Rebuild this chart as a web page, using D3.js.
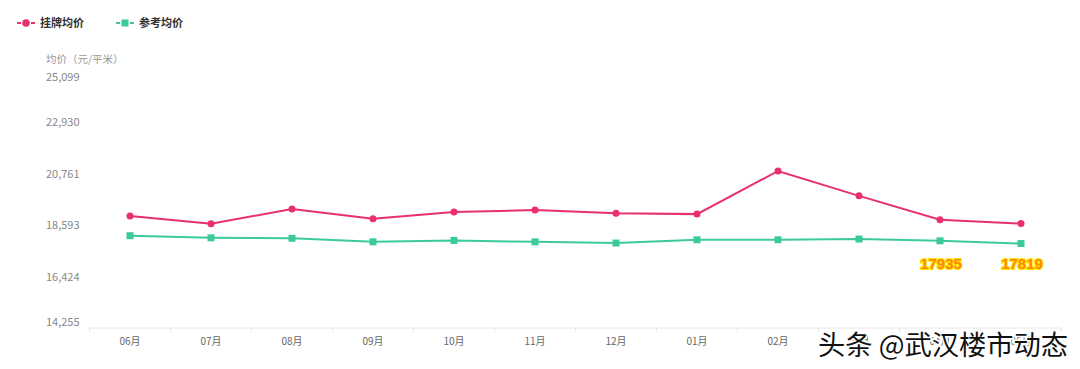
<!DOCTYPE html>
<html><head><meta charset="utf-8">
<script src="https://cdn.jsdelivr.net/npm/d3@7"></script>
<style>
body{margin:0;background:#fff;}
svg{display:block;font-family:"Noto Sans CJK SC","Noto Sans",sans-serif;}
</style></head>
<body><svg id="c" width="1080" height="369"></svg>
<script>
const months = ["06月","07月","08月","09月","10月","11月","12月","01月","02月","03月","04月","05月"];
const listed = [18980,18650,19280,18860,19150,19230,19100,19060,20880,19830,18820,18660];
const reference = [18150,18060,18040,17890,17950,17890,17840,17975,17980,18010,17935,17819];
const yTicks = [14255,16424,18593,20761,22930,25099];
const seriesNames = ["挂牌均价","参考均价"];
const highlightIdx = [10,11];

const svg = d3.select("#c");
const red = "#e8306a", green = "#3ccb98";
const x = d3.scaleBand().domain(months).range([89.5,1061.5]);
const y = d3.scaleLinear().domain([14255,25099]).range([328,71]);

// x axis
const gx = svg.append("g").attr("transform","translate(0,328)");
gx.append("line").attr("x1",89.5).attr("x2",1061.5).attr("stroke","#e6e6e6");
gx.selectAll("line.t").data(d3.range(months.length+1)).enter().append("line")
  .attr("x1",i=>89.5+i*x.bandwidth()).attr("x2",i=>89.5+i*x.bandwidth())
  .attr("y1",0).attr("y2",4).attr("stroke","#e6e6e6");
gx.selectAll("text").data(months).enter().append("text")
  .attr("x",d=>x(d)+x.bandwidth()/2).attr("y",17).attr("text-anchor","middle")
  .attr("font-size",10).attr("fill","#666").text(d=>d);

// y labels
svg.selectAll("text.yl").data(yTicks).enter().append("text").attr("class","yl")
  .attr("x",46).attr("y",(d,i)=>y(d)+4+(i===0?-6:(i===yTicks.length-1?6:0)))
  .attr("font-size",11).attr("fill","#888").text(d=>d3.format(",")(d));
svg.append("text").attr("x",46).attr("y",63).attr("font-size",10.5).attr("fill","#999").text("均价（元/平米）");

const cx = d=>x(d)+x.bandwidth()/2;
const line = d3.line().x((d,i)=>cx(months[i])).y(d=>y(d));
svg.append("path").datum(reference).attr("d",line).attr("fill","none").attr("stroke",green).attr("stroke-width",2);
svg.append("path").datum(listed).attr("d",line).attr("fill","none").attr("stroke",red).attr("stroke-width",2);
svg.selectAll("rect.g").data(reference).enter().append("rect")
  .attr("x",(d,i)=>cx(months[i])-3.5).attr("y",d=>y(d)-3.5).attr("width",7).attr("height",7).attr("fill",green);
svg.selectAll("circle.r").data(listed).enter().append("circle")
  .attr("cx",(d,i)=>cx(months[i])).attr("cy",d=>y(d)).attr("r",3.5).attr("fill",red);

// highlight labels
highlightIdx.forEach(i=>{
  svg.append("text").attr("x",cx(months[i])+1).attr("y",269).attr("text-anchor","middle")
    .attr("font-size",15).attr("font-weight","bold").attr("fill","#ff8a00")
    .attr("stroke","#ffe500").attr("stroke-width",2.2).attr("paint-order","stroke")
    .attr("font-family","Liberation Sans, Arial, sans-serif")
    .text(reference[i]);
});

// legend
const lg = [{n:seriesNames[0],c:red,x:17,shape:"c"},{n:seriesNames[1],c:green,x:116,shape:"s"}];
lg.forEach(l=>{
  const g = svg.append("g");
  g.append("line").attr("x1",l.x).attr("x2",l.x+18).attr("y1",23).attr("y2",23)
    .attr("stroke",l.c).attr("stroke-width",2).attr("stroke-dasharray","4,3");
  if(l.shape==="c") g.append("circle").attr("cx",l.x+9).attr("cy",23).attr("r",3.8).attr("fill",l.c);
  else g.append("rect").attr("x",l.x+5.5).attr("y",19.5).attr("width",7).attr("height",7).attr("fill",l.c);
  g.append("text").attr("x",l.x+23).attr("y",27).attr("font-size",11).attr("font-weight","bold").attr("fill","#333").text(l.n);
});

// watermark (overlays the last x labels, as in the reference)
svg.append("text").attr("x",1068).attr("y",355).attr("text-anchor","end")
  .attr("font-size",27).attr("fill","#111").attr("stroke","#fff").attr("stroke-width",3)
  .attr("paint-order","stroke").attr("textLength",250).attr("lengthAdjust","spacingAndGlyphs")
  .text("头条 @武汉楼市动态");
</script></body></html>
